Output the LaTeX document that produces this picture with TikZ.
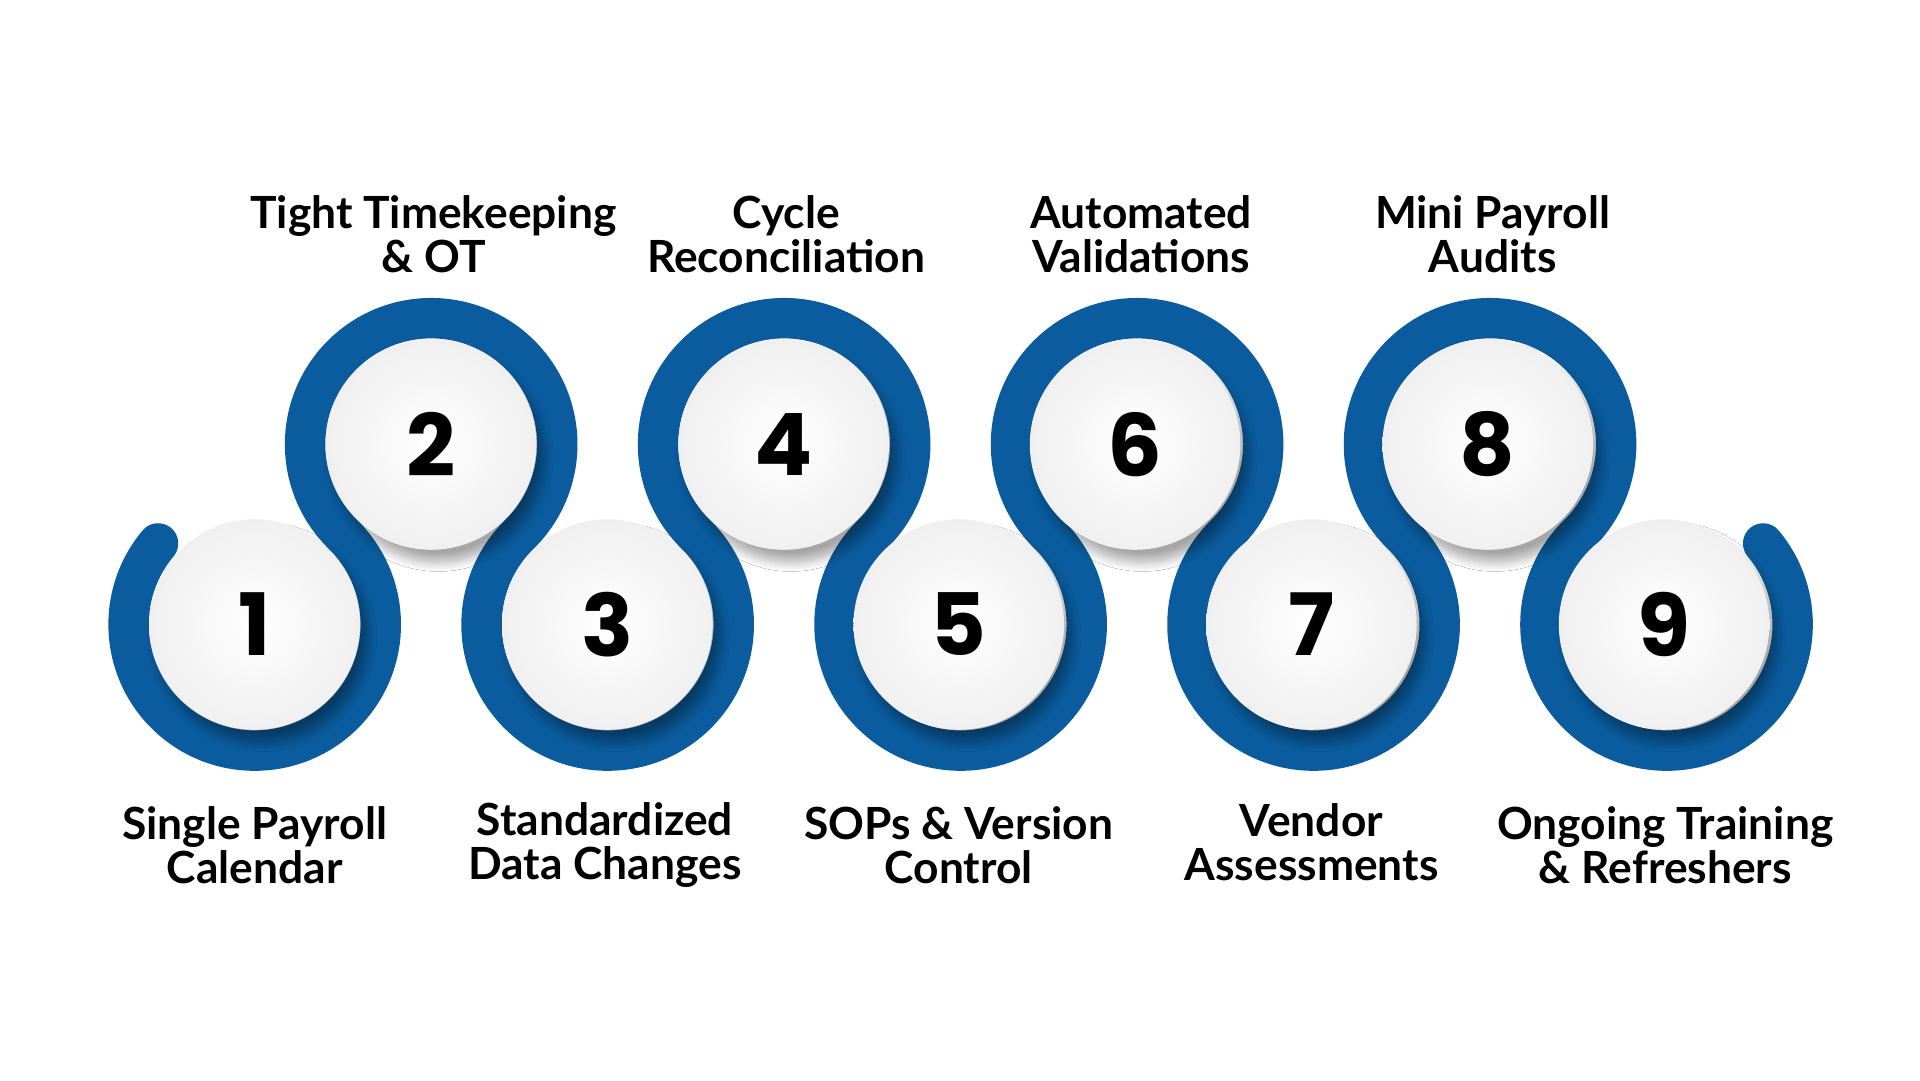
\documentclass[tikz,border=0pt]{standalone}
\usepackage{fontspec}
\setmainfont{Poppins}
\newfontfamily\lblfont{Lato}
\usetikzlibrary{shadows.blur}
\definecolor{bandblue}{HTML}{0A5C9E}
\tikzset{
 band/.style={line width=0.33cm,draw=bandblue,line cap=round},
 ball/.style={circle,minimum size=1.72cm,inner sep=0pt,
   inner color=white,outer color=gray!12,
   blur shadow={shadow xshift=0.06cm,shadow yshift=-0.1cm,shadow blur steps=12,shadow opacity=35},
   font=\bfseries\fontsize{20}{24}\selectfont},
 lbl/.style={align=center,font=\lblfont\bfseries\fontsize{10.3}{10.3}\selectfont}
}
\begin{document}
\begin{tikzpicture}
\useasboundingbox (0,0) rectangle (15.68,8.82);
\fill[white] (0,0) rectangle (15.68,8.82);
% centers
\foreach \i/\x/\y in {1/2.08/3.72,2/3.52/5.19,3/4.96/3.72,4/6.40/5.19,5/7.83/3.72,6/9.27/5.19,7/10.71/3.72,8/12.15/5.19,9/13.59/3.72}
  \coordinate (c\i) at (\x,\y);
% band
\draw[band] (c1) ++(140:1.03) arc[start angle=140,end angle=405.6,radius=1.03]
  arc[start angle=225.6,end angle=-45.6,radius=1.03]
  arc[start angle=134.4,end angle=405.6,radius=1.03]
  arc[start angle=225.6,end angle=-45.6,radius=1.03]
  arc[start angle=134.4,end angle=405.6,radius=1.03]
  arc[start angle=225.6,end angle=-45.6,radius=1.03]
  arc[start angle=134.4,end angle=405.6,radius=1.03]
  arc[start angle=225.6,end angle=-45.6,radius=1.03]
  arc[start angle=134.4,end angle=400,radius=1.03];
\foreach \i in {1,...,9} \node[ball] (b\i) at (c\i) {\i};
% labels
\node[lbl] (t2) at (3.54,6.91) {Tight Timekeeping\\\& OT};
\node[lbl] (t4) at (6.42,6.91) {Cycle\\Reconciliation};
\node[lbl] (t6) at (9.32,6.91) {Automated\\Validations};
\node[lbl] (t8) at (12.19,6.91) {Mini Payroll\\Audits};
\node[lbl] (t1) at (2.08,1.92) {Single Payroll\\Calendar};
\node[lbl] (t3) at (4.94,1.92) {Standardized\\Data Changes};
\node[lbl] (t5) at (7.83,1.92) {SOPs \& Version\\Control};
\node[lbl] (t7) at (10.71,1.94) {Vendor\\Assessments};
\node[lbl] (t9) at (13.60,1.92) {Ongoing Training\\\& Refreshers};
\end{tikzpicture}
\end{document}
